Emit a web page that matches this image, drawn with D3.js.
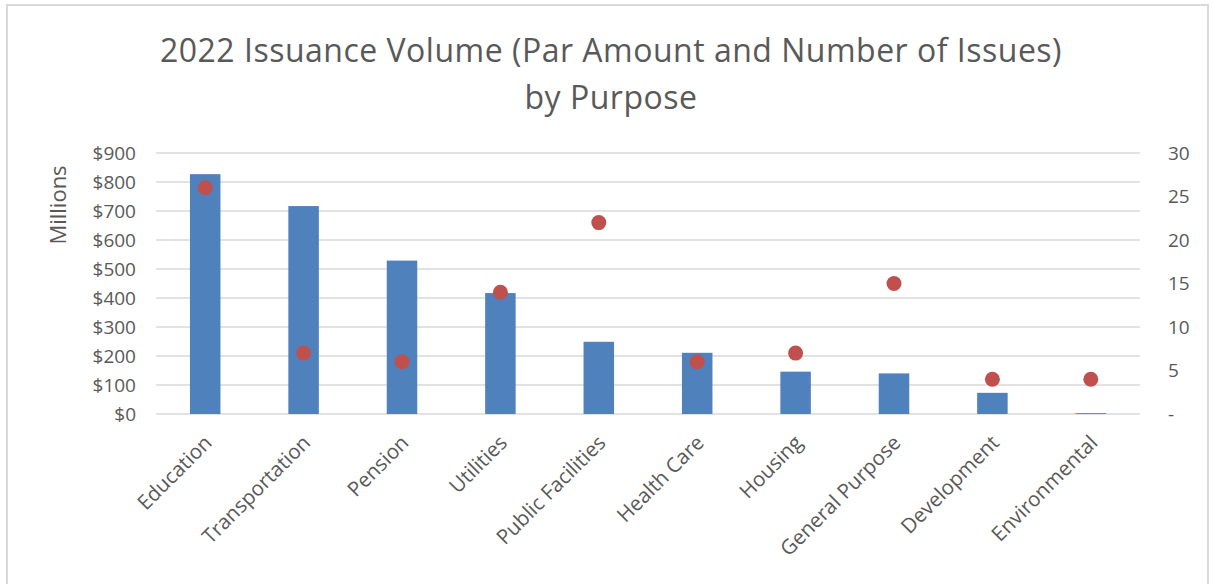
<!DOCTYPE html>
<html>
<head>
<meta charset="utf-8">
<script src="https://cdn.jsdelivr.net/npm/d3@7"></script>
<style>
  body { margin: 0; background: #fff; }
  text { font-family: "Open Sans", "Noto Sans", sans-serif; fill: #595959; }
</style>
</head>
<body>
<svg id="chart" width="1213" height="584"></svg>
<script>
// data
const purposes = ['Education', 'Transportation', 'Pension', 'Utilities', 'Public Facilities',
                  'Health Care', 'Housing', 'General Purpose', 'Development', 'Environmental'];
const parAmount = [827, 717, 529, 417, 249, 211, 146, 140, 73, 3];   // $ millions
const numIssues = [26, 7, 6, 14, 22, 6, 7, 15, 4, 4];
const leftTicks = [0, 100, 200, 300, 400, 500, 600, 700, 800, 900];
const rightTicks = [0, 5, 10, 15, 20, 25, 30];

const svg = d3.select('#chart');
const width = +svg.attr('width');
const height = +svg.attr('height');
const margin = {top: 153, right: 73, left: 156, bottom: 170};
const innerWidth = width - margin.left - margin.right;
const innerHeight = height - margin.top - margin.bottom;

// frame (bottom edge is outside the picture)
svg.append('path')
    .attr('d', 'M7,584 V5 H1208 V584')
    .attr('fill', 'none')
    .attr('stroke', '#d9d9d9')
    .attr('stroke-width', 2);

// title
const title = svg.append('text')
    .attr('text-anchor', 'middle')
    .style('font-size', '32px')
    .style('letter-spacing', '0.5px');
title.append('tspan').attr('x', 611).attr('y', 62).text('2022 Issuance Volume (Par Amount and Number of Issues)');
title.append('tspan').attr('x', 611).attr('y', 109).text('by Purpose');

const g = svg.append('g')
    .attr('transform', `translate(${margin.left}, ${margin.top})`);

const xScale = d3.scaleBand().domain(purposes).range([0, innerWidth]).paddingInner(0.69).paddingOuter(0.345);
const yLeft = d3.scaleLinear().domain([0, 900]).range([innerHeight, 0]);
const yRight = d3.scaleLinear().domain([0, 30]).range([innerHeight, 0]);

// gridlines
g.selectAll('.grid').data(leftTicks).enter().append('line')
    .attr('class', 'grid')
    .attr('x1', 0).attr('x2', innerWidth)
    .attr('y1', d => yLeft(d)).attr('y2', d => yLeft(d))
    .attr('stroke', '#d9d9d9')
    .attr('stroke-width', 1.5);

// left axis
const yAxisL = g.append('g')
    .call(d3.axisLeft(yLeft).tickValues(leftTicks).tickFormat(d => '$' + d).tickSize(0).tickPadding(20));
yAxisL.select('.domain').remove();
yAxisL.selectAll('text').style('font-size', '19px');

// right axis
const yAxisR = g.append('g')
    .attr('transform', `translate(${innerWidth}, 0)`)
    .call(d3.axisRight(yRight).tickValues(rightTicks).tickFormat(d => d === 0 ? '-' : d).tickSize(0).tickPadding(28));
yAxisR.select('.domain').remove();
yAxisR.selectAll('text').style('font-size', '19px');

// left axis title
svg.append('text')
    .attr('transform', 'translate(66, 205) rotate(-90)')
    .attr('text-anchor', 'middle')
    .style('font-size', '22px')
    .text('Millions');

// bars
g.selectAll('.bar').data(purposes).enter().append('rect')
    .attr('class', 'bar')
    .attr('x', d => xScale(d))
    .attr('width', xScale.bandwidth())
    .attr('y', (d, i) => yLeft(parAmount[i]))
    .attr('height', (d, i) => innerHeight - yLeft(parAmount[i]))
    .attr('fill', '#4f81bd');

// number of issues markers
g.selectAll('.dot').data(purposes).enter().append('circle')
    .attr('class', 'dot')
    .attr('cx', d => xScale(d) + xScale.bandwidth() / 2)
    .attr('cy', (d, i) => yRight(numIssues[i]))
    .attr('r', 7.5)
    .attr('fill', '#c0504d');

// x axis labels
const xAxisG = g.append('g')
    .attr('transform', `translate(0, ${innerHeight})`)
    .call(d3.axisBottom(xScale).tickSize(0).tickPadding(0));
xAxisG.select('.domain').remove();
xAxisG.selectAll('text')
    .style('font-size', '20.5px')
    .style('text-anchor', 'end')
    .attr('dy', 0)
    .attr('transform', 'translate(8, 30) rotate(-45)');
</script>
</body>
</html>
